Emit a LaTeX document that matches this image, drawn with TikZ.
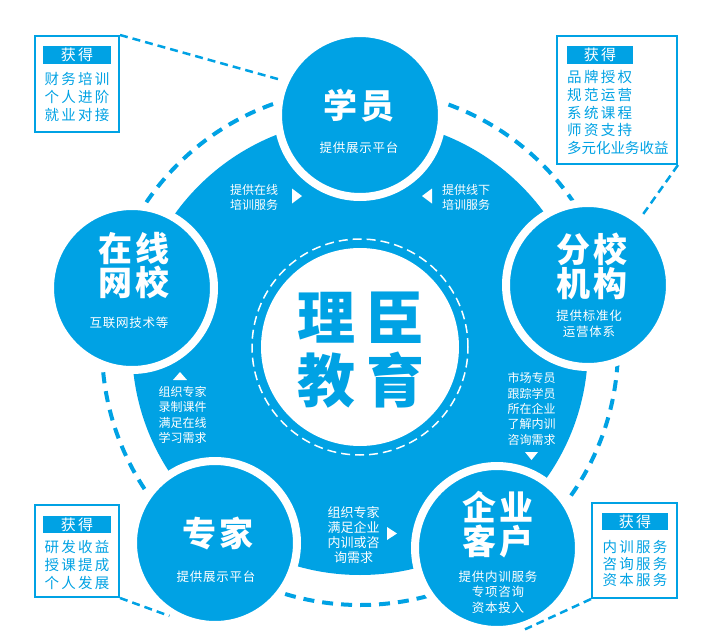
\documentclass[tikz,border=0pt]{standalone}
\usepackage{fontspec}
\newfontfamily\cjk{Noto Sans CJK SC}
\newfontfamily\cjksp{Noto Sans CJK SC}[LetterSpace=6]
\newfontfamily\cjkwide{Noto Sans CJK SC}[LetterSpace=16]
\newfontfamily\cjkhead{Noto Sans CJK SC Black}[LetterSpace=10]
\newfontfamily\cjklogo{Noto Sans CJK SC Black}[LetterSpace=18]
\usetikzlibrary{positioning}
\definecolor{lcblue}{RGB}{0,162,228}

\begin{document}
\begin{tikzpicture}[x=1pt, y=-1pt,
  member/.style={circle, fill=lcblue, draw=white, line width=8pt, minimum size=164pt, inner sep=0pt},
  mtitle/.style={text=white, font=\cjkhead\fontsize{34}{34}\selectfont, align=center, inner sep=0pt},
  msub/.style={text=white, font=\cjksp\fontsize{12.5}{15.5}\selectfont, align=center, inner sep=0pt},
  flow/.style={text=white, font=\cjk\fontsize{12}{15.3}\selectfont, inner sep=0pt},
  infobox/.style={draw=lcblue, line width=2pt, fill=white, inner sep=0pt},
  gethead/.style={fill=lcblue, text=white, font=\cjkwide\fontsize{15}{15}\selectfont, inner sep=0pt, minimum height=18pt},
  gettext/.style={text=lcblue, font=\cjkwide\fontsize{14.5}{18}\selectfont, inner sep=0pt},
  ring/.style={draw=lcblue, line width=4pt, dash pattern=on 11pt off 8pt},
  link/.style={draw=lcblue, line width=2.5pt, dash pattern=on 8pt off 5pt}]
  \useasboundingbox (0,0) rectangle (713,640);

  \coordinate (o) at (360,347);
  \draw[ring] (o) circle (258pt);
  \node[circle, fill=lcblue, minimum size=456pt, inner sep=0pt] (hub) at (o) {};
  \draw[white, line width=1.5pt, dash pattern=on 9pt off 5pt] (o) circle (108pt);
  \node[circle, fill=white, minimum size=198pt, inner sep=0pt] (core) at (o) {};
  \node[text=lcblue, font=\cjklogo\fontsize{58}{63}\selectfont, align=center, inner sep=0pt] (logo) at (361,350) {理臣\\教育};

  \node[member] (xy) at (360,115) {};
  \node[member] (wx) at (132,288) {};
  \node[member] (fx) at (588,285) {};
  \node[member] (zj) at (215,543) {};
  \node[member] (qy) at (497,548) {};

  \node[mtitle] (xyt) at (359,106) {学员};
  \node[msub] (xys) at (359,148) {提供展示平台};
  \node[mtitle] (wxt) at (134,266) {在线\\网校};
  \node[msub] (wxs) at (129,323) {互联网技术等};
  \node[mtitle] (fxt) at (592,266) {分校\\机构};
  \node[msub] (fxs) at (589,324) {提供标准化\\运营体系};
  \node[mtitle] (zjt) at (218,534) {专家};
  \node[msub] (zjs) at (216,577) {提供展示平台};
  \node[mtitle] (qyt) at (498,525) {企业\\客户};
  \node[msub] (qys) at (498,592) {提供内训服务\\专项咨询\\资本投入};

  \node[flow, align=left] (f1) at (254,197.5) {提供在线\\培训服务};
  \node[flow, align=left] (f2) at (466,197.5) {提供线下\\培训服务};
  \node[flow, align=left] (f3) at (182.5,415) {组织专家\\录制课件\\满足在线\\学习需求};
  \node[flow, align=left] (f4) at (531.5,409) {市场专员\\跟踪学员\\所在企业\\了解内训\\咨询需求};
  \node[flow, align=center, font=\cjk\fontsize{13}{15.3}\selectfont] (f5) at (353.5,535) {组织专家\\满足企业\\内训或咨\\询需求};
  \fill[white] (297,196) +(-5,-7.5) -- +(-5,7.5) -- +(5,0) -- cycle;
  \fill[white] (427,196) +(5,-7.5) -- +(5,7.5) -- +(-5,0) -- cycle;
  \fill[white] (180,376) +(-7,4) -- +(7,4) -- +(0,-4) -- cycle;
  \fill[white] (531.5,456) +(-6.5,-4) -- +(6.5,-4) -- +(0,4) -- cycle;
  \fill[white] (392,533.5) +(-5,-6.5) -- +(-5,6.5) -- +(5,0) -- cycle;

  \node[infobox, minimum width=84pt, minimum height=96pt] (gl) at (77,84) {};
  \node[gethead, minimum width=68pt] (glh) at (77,55) {获得};
  \node[gettext, align=center] (glt) at (77,96.5) {财务培训\\个人进阶\\就业对接};

  \node[infobox, minimum width=120pt, minimum height=128pt] (gr) at (617,100) {};
  \node[gethead, minimum width=66pt] (grh) at (600,55) {获得};
  \node[gettext, align=left, anchor=west, font=\cjkwide\fontsize{14.5}{17.8}\selectfont] (grt) at (567,112.5) {品牌授权\\规范运营\\系统课程\\师资支持\\{\cjk 多元化业务收益}};

  \node[infobox, minimum width=84pt, minimum height=92pt] (gbl) at (77,551) {};
  \node[gethead, minimum width=68pt, minimum height=17pt] (gblh) at (77,524.5) {获得};
  \node[gettext, align=center] (gblt) at (77,565) {研发收益\\授课提成\\个人发展};

  \node[infobox, minimum width=85pt, minimum height=95pt] (gbr) at (634.5,550.5) {};
  \node[gethead, minimum width=66pt, minimum height=17pt] (gbrh) at (635,521.5) {获得};
  \node[gettext, align=center, font=\cjkwide\fontsize{14.5}{16.5}\selectfont] (gbrt) at (635,563.5) {内训服务\\咨询服务\\资本服务};

  \draw[link] (gl.north east) -- (xy.156);
  \draw[link] (gr.south east) -- (fx.52);
  \draw[link] (gbl.south east) -- (zj.238);
  \draw[link] (gbr.south west) -- (qy.289);
\end{tikzpicture}
\end{document}
